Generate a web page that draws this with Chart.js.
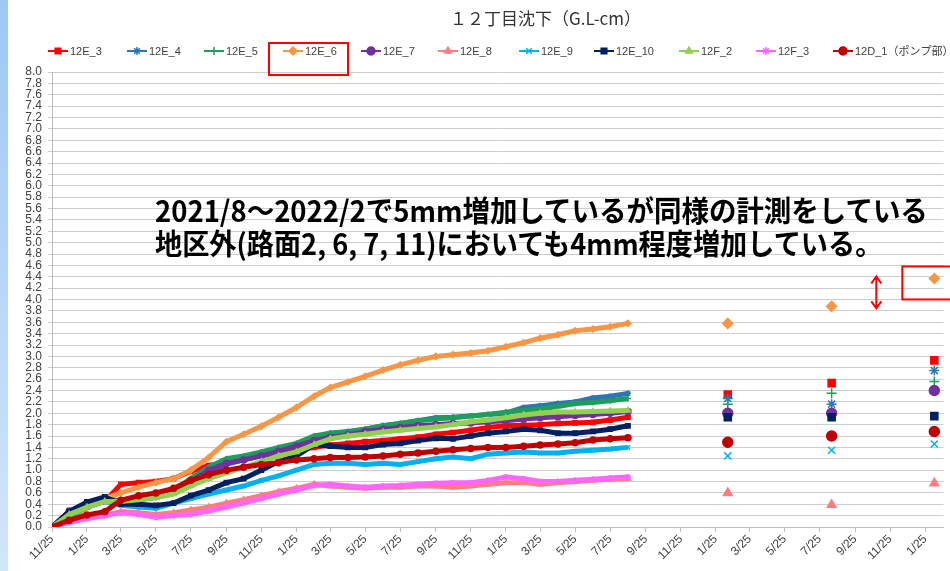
<!DOCTYPE html>
<html lang="ja">
<head>
<meta charset="UTF-8">
<title>12丁目沈下</title>
<style>
  html, body { margin: 0; padding: 0; background: #fff; }
  #wrap { position: relative; width: 950px; height: 571px; overflow: hidden; }
  #edge { position: absolute; left: 0; top: 0; width: 8px; height: 571px; background: linear-gradient(#9ec8f6, #d2e6fb); }
  #title { position: absolute; left: 450px; top: 5px; font: 17px "Noto Sans CJK JP", sans-serif; color: #333; white-space: nowrap; }
  .note { position: absolute; left: 155px; font: bold 29px/33px "Noto Sans CJK JP", sans-serif; color: #000; white-space: nowrap; transform-origin: left top; }
</style>
</head>
<body>
<div id="wrap">
  <div style="position:absolute;left:0;top:0;width:950px;height:571px;">
    <canvas id="chart"></canvas>
  </div>
  <div id="edge"></div>
  <div id="title">１２丁目沈下（G.L-cm）</div>
  <div class="note" id="note1" style="top:193px">2021/8～2022/2で5mm増加しているが同様の計測をしている</div>
  <div class="note" id="note2" style="top:226px">地区外(路面2, 6, 7, 11)においても4mm程度増加している。</div>
</div>

<script src="https://cdnjs.cloudflare.com/ajax/libs/Chart.js/4.4.1/chart.umd.js"></script>
<script>
// monthly readings, 2017/11/25 .. 2020/08/25
const mainDates = [
  '2017-11-25','2017-12-25',
  '2018-01-25','2018-02-25','2018-03-25','2018-04-25','2018-05-25','2018-06-25',
  '2018-07-25','2018-08-25','2018-09-25','2018-10-25','2018-11-25','2018-12-25',
  '2019-01-25','2019-02-25','2019-03-25','2019-04-25','2019-05-25','2019-06-25',
  '2019-07-25','2019-08-25','2019-09-25','2019-10-25','2019-11-25','2019-12-25',
  '2020-01-25','2020-02-25','2020-03-25','2020-04-25','2020-05-25','2020-06-25',
  '2020-07-25','2020-08-25'
];
// later spot measurements
const lateDates = ['2021-02-15', '2021-08-15', '2022-02-10'];

const labels = ['12E_3','12E_4','12E_5','12E_6','12E_7','12E_8','12E_9','12E_10','12F_2','12F_3','12D_1（ポンプ部）'];

const v12E_3  = [0,0.15,0.35,0.45,0.75,0.78,0.8,0.85,0.98,1.08,1.12,1.18,1.25,1.3,1.35,1.4,1.44,1.47,1.5,1.52,1.55,1.58,1.63,1.66,1.7,1.75,1.78,1.79,1.8,1.82,1.83,1.84,1.88,1.93];
const v12E_4  = [0,0.25,0.4,0.5,0.45,0.48,0.52,0.6,0.78,0.95,1.1,1.18,1.28,1.38,1.45,1.58,1.65,1.68,1.72,1.78,1.82,1.87,1.92,1.93,1.95,1.98,2.0,2.1,2.13,2.17,2.2,2.27,2.3,2.35];
const v12E_5  = [0,0.25,0.4,0.5,0.45,0.48,0.55,0.65,0.85,1.05,1.2,1.25,1.32,1.4,1.47,1.6,1.65,1.67,1.72,1.78,1.82,1.87,1.9,1.92,1.95,1.98,2.02,2.05,2.08,2.12,2.17,2.19,2.22,2.26];
const v12E_6  = [0,0.15,0.35,0.5,0.6,0.7,0.78,0.85,1.0,1.22,1.5,1.63,1.77,1.93,2.1,2.3,2.45,2.55,2.65,2.76,2.85,2.93,3.0,3.03,3.06,3.1,3.17,3.24,3.32,3.38,3.45,3.48,3.52,3.58];
const v12E_7  = [0,0.28,0.42,0.5,0.45,0.5,0.55,0.62,0.8,1.0,1.12,1.18,1.25,1.33,1.42,1.52,1.58,1.62,1.68,1.72,1.75,1.78,1.8,1.82,1.83,1.85,1.87,1.9,1.92,1.94,1.96,1.98,2.0,2.03];
const v12E_8  = [0,0.1,0.15,0.2,0.27,0.25,0.22,0.25,0.3,0.35,0.42,0.48,0.55,0.62,0.68,0.75,0.72,0.7,0.68,0.7,0.7,0.72,0.72,0.7,0.72,0.75,0.78,0.78,0.75,0.78,0.8,0.82,0.84,0.85];
const v12E_9  = [0,0.2,0.35,0.45,0.38,0.35,0.33,0.42,0.5,0.58,0.65,0.72,0.82,0.9,1.0,1.1,1.12,1.12,1.1,1.12,1.1,1.15,1.2,1.23,1.2,1.28,1.3,1.32,1.3,1.3,1.33,1.35,1.37,1.4];
const v12E_10 = [0,0.27,0.44,0.53,0.4,0.4,0.38,0.42,0.55,0.65,0.78,0.85,1.0,1.15,1.25,1.45,1.42,1.4,1.4,1.45,1.47,1.52,1.56,1.55,1.6,1.65,1.68,1.72,1.7,1.65,1.65,1.68,1.72,1.78];
const v12F_2  = [0,0.22,0.35,0.45,0.45,0.48,0.52,0.58,0.72,0.85,0.95,1.05,1.15,1.25,1.32,1.45,1.55,1.6,1.63,1.67,1.7,1.73,1.76,1.8,1.85,1.88,1.92,1.97,2.0,2.02,2.02,2.03,2.04,2.05];
const v12F_3  = [0,0.08,0.15,0.2,0.25,0.22,0.17,0.2,0.22,0.28,0.35,0.42,0.5,0.58,0.65,0.73,0.75,0.72,0.7,0.72,0.73,0.75,0.77,0.78,0.78,0.82,0.88,0.85,0.8,0.8,0.82,0.84,0.86,0.88];
const v12D_1  = [0,0.12,0.21,0.27,0.47,0.55,0.6,0.68,0.82,0.92,1.0,1.05,1.1,1.13,1.18,1.2,1.22,1.22,1.23,1.25,1.28,1.3,1.33,1.36,1.38,1.4,1.4,1.42,1.44,1.46,1.48,1.53,1.55,1.57];

const late12E_3  = [2.33, 2.53, 2.93];
const late12E_4  = [2.26, 2.16, 2.75];
const late12E_5  = [2.16, 2.35, 2.56];
const late12E_6  = [3.58, 3.88, 4.37];
const late12E_7  = [2.0, 2.0, 2.4];
const late12E_8  = [0.6, 0.39, 0.77];
const late12E_9  = [1.25, 1.35, 1.46];
const late12E_10 = [1.93, 1.93, 1.95];
const late12F_2  = [];
const late12F_3  = [];
const late12D_1  = [1.49, 1.6, 1.68];

const xTickDates = [
  '2017-11-25','2018-01-25','2018-03-25','2018-05-25','2018-07-25','2018-09-25',
  '2018-11-25','2019-01-25','2019-03-25','2019-05-25','2019-07-25','2019-09-25',
  '2019-11-25','2020-01-25','2020-03-25','2020-05-25','2020-07-25','2020-09-25',
  '2020-11-25','2021-01-25','2021-03-25','2021-05-25','2021-07-25','2021-09-25',
  '2021-11-25','2022-01-25'
];

const colors = ['#FF0000','#2E75B6','#1E9E5A','#F79646','#7030A0','#FF7C80','#00B0F0','#002060','#92D050','#FF66FF','#C00000'];
const styles = ['rect','star','cross','rectRot','circle','triangle','crossRot','rect','triangle','star','circle'];

const t0 = Date.UTC(2017, 10, 25);
function day(s) {
  const p = s.split('-').map(Number);
  return (Date.UTC(p[0], p[1] - 1, p[2]) - t0) / 864e5;
}

const mains = [v12E_3, v12E_4, v12E_5, v12E_6, v12E_7, v12E_8, v12E_9, v12E_10, v12F_2, v12F_3, v12D_1];
const lates = [late12E_3, late12E_4, late12E_5, late12E_6, late12E_7, late12E_8, late12E_9, late12E_10, late12F_2, late12F_3, late12D_1];

const datasets = labels.map((label, i) => {
  const pts = mainDates.map((d, j) => ({ x: day(d), y: mains[i][j] }));
  // spot readings are not joined: a null before each one breaks the line
  lates[i].forEach((v, j) => {
    pts.push({ x: day(lateDates[j]) - 1, y: null });
    pts.push({ x: day(lateDates[j]), y: v });
  });
  return {
    label,
    data: pts,
    borderColor: colors[i],
    backgroundColor: colors[i],
    pointBackgroundColor: colors[i],
    pointBorderColor: colors[i],
    pointStyle: styles[i],
    borderWidth: 5,
    pointBorderWidth: 1.5,
    pointRadius: c => c.dataIndex >= mainDates.length ? 5 : 3,
    spanGaps: false,
    order: labels.length - i
  };
});

// legend item positions (px)
const legendX = [48, 127, 204, 283, 361, 438, 519, 594, 679, 756, 833];

const decor = {
  id: 'decor',
  afterDraw(chart) {
    const ctx = chart.ctx;
    ctx.save();
    ctx.font = '11px "Liberation Sans", "Noto Sans CJK JP", sans-serif';
    ctx.textBaseline = 'middle';
    chart.data.datasets.forEach((ds, i) => {
      const x = legendX[i], y = 51;
      ctx.strokeStyle = ds.borderColor;
      ctx.lineWidth = 2;
      ctx.beginPath(); ctx.moveTo(x, y); ctx.lineTo(x + 20, y); ctx.stroke();
      ctx.fillStyle = ds.pointBackgroundColor;
      ctx.lineWidth = 1.5;
      Chart.helpers.drawPoint(ctx, { pointStyle: ds.pointStyle, radius: 4, borderWidth: 1.5, rotation: 0 }, x + 10, y);
      ctx.fillStyle = '#404040';
      ctx.fillText(ds.label, x + 22, y + 0.5);
    });

    // red highlight boxes and arrow
    const xs = chart.scales.x, ys = chart.scales.y;
    ctx.strokeStyle = '#FF0000';
    ctx.lineWidth = 2;
    ctx.strokeRect(269, 43, 79, 32);
    const px = xs.getPixelForValue(day(lateDates[2]));
    const py2 = ys.getPixelForValue(late12E_6[2]);
    const py1 = ys.getPixelForValue(late12E_6[1]);
    ctx.strokeRect(px - 32, py2 - 12, 60, 33);
    const ax = px - 58, top = py2 - 2, bot = py1 + 2;
    ctx.beginPath();
    ctx.moveTo(ax, top); ctx.lineTo(ax, bot);
    ctx.moveTo(ax - 5, top + 7); ctx.lineTo(ax, top); ctx.lineTo(ax + 5, top + 7);
    ctx.moveTo(ax - 5, bot - 7); ctx.lineTo(ax, bot); ctx.lineTo(ax + 5, bot - 7);
    ctx.stroke();
    ctx.restore();
  }
};

const tickFont = { family: '"Liberation Sans", Arial, sans-serif', size: 12 };

new Chart(document.getElementById('chart'), {
  type: 'line',
  data: { datasets },
  options: {
    responsive: true,
    maintainAspectRatio: false,
    animation: false,
    layout: { padding: { left: 0, top: 72, right: 2, bottom: 0 } },
    plugins: { legend: { display: false }, title: { display: false }, tooltip: { enabled: false } },
    elements: { line: { tension: 0 } },
    scales: {
      x: {
        type: 'linear',
        min: 0,
        max: day('2022-02-26'),
        afterBuildTicks: s => { s.ticks = xTickDates.map(d => ({ value: day(d) })); },
        afterFit: s => { s.height = 44; },
        ticks: {
          autoSkip: false,
          minRotation: 45,
          maxRotation: 45,
          color: '#404040',
          font: tickFont,
          padding: 0,
          callback: (v, i) => {
            const p = xTickDates[i].split('-').map(Number);
            return p[1] + '/' + p[2];
          }
        },
        grid: { drawOnChartArea: false, drawTicks: true, tickLength: 5, color: '#bfbfbf' },
        border: { color: '#bfbfbf' }
      },
      y: {
        min: 0,
        max: 8,
        afterFit: s => { s.width = 52; },
        ticks: {
          stepSize: 0.2,
          autoSkip: false,
          color: '#404040',
          font: tickFont,
          padding: 6,
          callback: v => v.toFixed(1)
        },
        grid: { color: '#cdcdcd', tickLength: 4 },
        border: { color: '#bfbfbf' }
      }
    }
  },
  plugins: [decor]
});

// squeeze the note lines to the width they take in the original
[['note1', 773], ['note2', 727]].forEach(([id, w]) => {
  const el = document.getElementById(id);
  el.style.transform = 'scaleX(' + (w / el.offsetWidth) + ')';
});
</script>
</body>
</html>
